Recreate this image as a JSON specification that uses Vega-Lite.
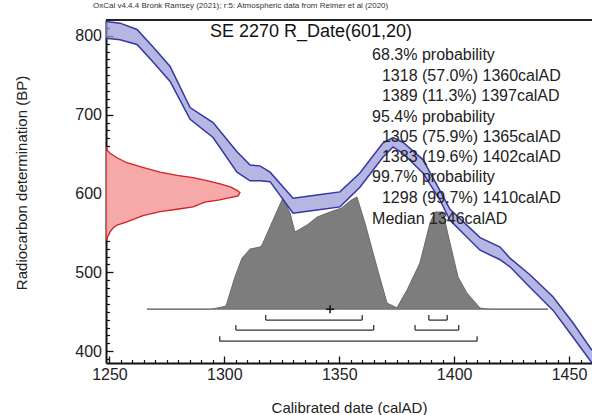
{
  "$schema": "https://vega.github.io/schema/vega-lite/v6.json",
  "width": 486,
  "height": 343,
  "autosize": {"type": "none"},
  "padding": {"left": 106, "top": 20, "right": 0, "bottom": 52},
  "background": "white",
  "config": {
    "view": {"stroke": null},
    "font": "Liberation Sans",
    "text": {"font": "Liberation Sans", "color": "#222"}
  },
  "title": {
    "text": "OxCal v4.4.4 Bronk Ramsey (2021); r:5: Atmospheric data from Reimer et al (2020)",
    "anchor": "start",
    "frame": "group",
    "dx": -13,
    "offset": 1,
    "fontSize": 8,
    "fontWeight": "normal",
    "color": "#333",
    "baseline": "bottom",
    "font": "Liberation Sans"
  },
  "resolve": {"axis": {"x": "independent", "y": "independent"}},
  "datasets": {
    "curve": [
      {"year": 1248.5, "hi": 818, "lo": 797},
      {"year": 1254.6, "hi": 816, "lo": 795},
      {"year": 1262.0, "hi": 808, "lo": 789},
      {"year": 1268.9, "hi": 786, "lo": 767},
      {"year": 1276.4, "hi": 761, "lo": 742},
      {"year": 1285.1, "hi": 709, "lo": 694},
      {"year": 1295.1, "hi": 690, "lo": 671},
      {"year": 1305.5, "hi": 653, "lo": 627},
      {"year": 1311.2, "hi": 636, "lo": 616},
      {"year": 1315.5, "hi": 635, "lo": 616},
      {"year": 1319.9, "hi": 627, "lo": 615},
      {"year": 1329.9, "hi": 594, "lo": 575},
      {"year": 1340.3, "hi": 598, "lo": 579},
      {"year": 1350.3, "hi": 602, "lo": 583},
      {"year": 1359.0, "hi": 626, "lo": 608},
      {"year": 1369.0, "hi": 664, "lo": 646},
      {"year": 1373.4, "hi": 671, "lo": 659},
      {"year": 1377.7, "hi": 665, "lo": 651},
      {"year": 1386.4, "hi": 643, "lo": 626},
      {"year": 1393.8, "hi": 604, "lo": 592},
      {"year": 1398.2, "hi": 580, "lo": 566},
      {"year": 1411.3, "hi": 544, "lo": 528},
      {"year": 1420.0, "hi": 532, "lo": 516},
      {"year": 1424.3, "hi": 518, "lo": 507},
      {"year": 1433.0, "hi": 497, "lo": 481},
      {"year": 1443.0, "hi": 469, "lo": 452},
      {"year": 1451.7, "hi": 436, "lo": 418},
      {"year": 1460.0, "hi": 401, "lo": 385}
    ],
    "grey": [
      {"year": 1266.3, "bp": 453.3},
      {"year": 1294.0, "bp": 453.3},
      {"year": 1296.8, "bp": 454.6},
      {"year": 1300.7, "bp": 457.1},
      {"year": 1304.6, "bp": 494.0},
      {"year": 1307.7, "bp": 518.1},
      {"year": 1311.2, "bp": 529.5},
      {"year": 1315.5, "bp": 532.1},
      {"year": 1316.4, "bp": 534.6},
      {"year": 1321.2, "bp": 566.3},
      {"year": 1325.5, "bp": 594.3},
      {"year": 1328.6, "bp": 575.2},
      {"year": 1330.7, "bp": 551.1},
      {"year": 1336.0, "bp": 560.0},
      {"year": 1340.3, "bp": 570.0},
      {"year": 1346.0, "bp": 576.5},
      {"year": 1351.0, "bp": 581.6},
      {"year": 1355.3, "bp": 591.7},
      {"year": 1357.7, "bp": 595.6},
      {"year": 1361.2, "bp": 562.5},
      {"year": 1366.4, "bp": 506.7},
      {"year": 1370.8, "bp": 461.0},
      {"year": 1375.1, "bp": 455.0},
      {"year": 1379.5, "bp": 477.5},
      {"year": 1385.1, "bp": 511.7},
      {"year": 1389.5, "bp": 562.5},
      {"year": 1391.7, "bp": 576.5},
      {"year": 1395.1, "bp": 576.5},
      {"year": 1398.2, "bp": 537.1},
      {"year": 1401.7, "bp": 494.0},
      {"year": 1405.6, "bp": 473.7},
      {"year": 1411.3, "bp": 454.6},
      {"year": 1415.6, "bp": 453.3},
      {"year": 1440.8, "bp": 453.3}
    ],
    "red": [
      {"bp": 659, "w": 1248.5},
      {"bp": 655, "w": 1249.0},
      {"bp": 651, "w": 1250.2},
      {"bp": 645, "w": 1253.5},
      {"bp": 639, "w": 1257.6},
      {"bp": 633, "w": 1264.5},
      {"bp": 627, "w": 1272.0},
      {"bp": 623, "w": 1279.4},
      {"bp": 620, "w": 1286.4},
      {"bp": 616, "w": 1292.9},
      {"bp": 612, "w": 1298.6},
      {"bp": 608, "w": 1302.9},
      {"bp": 604, "w": 1305.5},
      {"bp": 601, "w": 1306.8},
      {"bp": 597, "w": 1306.0},
      {"bp": 592, "w": 1298.0},
      {"bp": 589, "w": 1291.5},
      {"bp": 583, "w": 1286.4},
      {"bp": 580, "w": 1279.4},
      {"bp": 577, "w": 1272.0},
      {"bp": 572, "w": 1264.6},
      {"bp": 564, "w": 1257.6},
      {"bp": 560, "w": 1253.3},
      {"bp": 556, "w": 1251.5},
      {"bp": 551, "w": 1250.2},
      {"bp": 543, "w": 1248.9},
      {"bp": 541, "w": 1248.5}
    ],
    "ranges": [
      {"level": "68.3%", "from": 1318, "to": 1360, "bp": 439.4},
      {"level": "68.3%", "from": 1389, "to": 1397, "bp": 439.4},
      {"level": "95.4%", "from": 1305, "to": 1365, "bp": 426.7},
      {"level": "95.4%", "from": 1383, "to": 1402, "bp": 426.7},
      {"level": "99.7%", "from": 1298, "to": 1410, "bp": 412.7}
    ],
    "median": [{"year": 1346, "bp": 453.3}],
    "lines": [
      {"t": "68.3% probability", "bp": 775.9, "kind": "head"},
      {"t": "1318 (57.0%) 1360calAD", "bp": 749.2, "kind": "range"},
      {"t": "1389 (11.3%) 1397calAD", "bp": 723.8, "kind": "range"},
      {"t": "95.4% probability", "bp": 697.1, "kind": "head"},
      {"t": "1305 (75.9%) 1365calAD", "bp": 671.7, "kind": "range"},
      {"t": "1383 (19.6%) 1402calAD", "bp": 646.3, "kind": "range"},
      {"t": "99.7% probability", "bp": 621.0, "kind": "head"},
      {"t": "1298 (99.7%) 1410calAD", "bp": 594.3, "kind": "range"},
      {"t": "Median 1346calAD", "bp": 567.6, "kind": "head"}
    ],
    "heading": [{"t": "SE 2270 R_Date(601,20)", "year": 1337.7, "bp": 805}]
  },
  "layer": [
    {
      "data": {"name": "grey"},
      "mark": {"type": "area", "color": "#7d7d7d", "stroke": "#6a6a6a", "strokeWidth": 1, "clip": true},
      "encoding": {
        "x": {
          "field": "year", "type": "quantitative",
          "scale": {"domain": [1248.5, 1460], "nice": false, "zero": false},
          "axis": {
            "orient": "bottom",
            "values": [1250, 1300, 1350, 1400, 1450],
            "format": "d",
            "tickSize": -7,
            "tickColor": "#111", "tickWidth": 1.3,
            "domainColor": "#111", "domainWidth": 2,
            "labelFontSize": 16, "labelColor": "#222", "labelFont": "Liberation Sans",
            "labelPadding": 10, "labelOverlap": false, "labelFlush": false,
            "grid": false,
            "title": "Calibrated date (calAD)",
            "titleFontSize": 15, "titleFontWeight": "normal", "titleColor": "#222", "titleFont": "Liberation Sans",
            "titleY": 44, "titleBaseline": "middle"
          }
        },
        "y": {
          "field": "bp", "type": "quantitative",
          "scale": {"domain": [385, 820], "nice": false, "zero": false},
          "axis": {
            "orient": "left",
            "values": [400, 500, 600, 700, 800],
            "format": "d",
            "tickSize": -7,
            "tickColor": "#111", "tickWidth": 1.3,
            "domainColor": "#111", "domainWidth": 2,
            "labelFontSize": 16, "labelColor": "#222", "labelFont": "Liberation Sans",
            "labelPadding": 11.5, "labelOverlap": false, "labelFlush": false,
            "grid": false,
            "title": "Radiocarbon determination (BP)",
            "titleFontSize": 15, "titleFontWeight": "normal", "titleColor": "#222", "titleFont": "Liberation Sans",
            "titleX": -85, "titleY": 162.5, "titleAngle": -90, "titleBaseline": "middle", "titleAlign": "center"
          }
        },
        "y2": {"datum": 453.3}
      }
    },
    {
      "data": {"name": "red"},
      "mark": {"type": "area", "orient": "horizontal", "color": "#f5a9a9", "stroke": "#d81e1e", "strokeWidth": 1.3, "clip": true},
      "encoding": {
        "y": {
          "field": "bp", "type": "quantitative",
          "axis": {
            "orient": "left",
            "values": [390,410,420,430,440,450,460,470,480,490,510,520,530,540,550,560,570,580,590,610,620,630,640,650,660,670,680,690,710,720,730,740,750,760,770,780,790,810],
            "tickSize": -3.5, "tickColor": "#111", "tickWidth": 1.2,
            "labels": false, "domain": false, "grid": false, "title": null
          }
        },
        "x": {
          "field": "w", "type": "quantitative",
          "axis": {
            "orient": "bottom",
            "values": [1255,1260,1265,1270,1275,1280,1285,1290,1295,1305,1310,1315,1320,1325,1330,1335,1340,1345,1355,1360,1365,1370,1375,1380,1385,1390,1395,1405,1410,1415,1420,1425,1430,1435,1440,1445,1455],
            "tickSize": -3.5, "tickColor": "#111", "tickWidth": 1.2,
            "labels": false, "domain": false, "grid": false, "title": null
          }
        },
        "x2": {"datum": 1248.5}
      }
    },
    {
      "data": {"name": "curve"},
      "mark": {"type": "area", "color": "#9a9ad8", "opacity": 0.72, "clip": true},
      "encoding": {
        "x": {"field": "year", "type": "quantitative", "axis": null},
        "y": {"field": "hi", "type": "quantitative", "axis": null},
        "y2": {"field": "lo"}
      }
    },
    {
      "data": {"name": "curve"},
      "mark": {"type": "line", "color": "#3535a5", "strokeWidth": 1.5, "clip": true},
      "encoding": {
        "x": {"field": "year", "type": "quantitative", "axis": null},
        "y": {"field": "hi", "type": "quantitative", "axis": null}
      }
    },
    {
      "data": {"name": "curve"},
      "mark": {"type": "line", "color": "#3535a5", "strokeWidth": 1.5, "clip": true},
      "encoding": {
        "x": {"field": "year", "type": "quantitative", "axis": null},
        "y": {"field": "lo", "type": "quantitative", "axis": null}
      }
    },
    {
      "data": {"name": "ranges"},
      "mark": {"type": "rule", "color": "#333", "strokeWidth": 1.3},
      "encoding": {
        "x": {"field": "from", "type": "quantitative", "axis": null},
        "x2": {"field": "to"},
        "y": {"field": "bp", "type": "quantitative", "axis": null}
      }
    },
    {
      "data": {"name": "ranges"},
      "mark": {"type": "rule", "color": "#333", "strokeWidth": 1.3, "y2Offset": -5},
      "encoding": {
        "x": {"field": "from", "type": "quantitative", "axis": null},
        "y": {"field": "bp", "type": "quantitative", "axis": null},
        "y2": {"field": "bp"}
      }
    },
    {
      "data": {"name": "ranges"},
      "mark": {"type": "rule", "color": "#333", "strokeWidth": 1.3, "y2Offset": -5},
      "encoding": {
        "x": {"field": "to", "type": "quantitative", "axis": null},
        "y": {"field": "bp", "type": "quantitative", "axis": null},
        "y2": {"field": "bp"}
      }
    },
    {
      "data": {"name": "median"},
      "mark": {"type": "point", "shape": "M-1,0L1,0M0,-1L0,1", "size": 64, "filled": false, "stroke": "#111", "strokeWidth": 1.5, "opacity": 1},
      "encoding": {
        "x": {"field": "year", "type": "quantitative", "axis": null},
        "y": {"field": "bp", "type": "quantitative", "axis": null}
      }
    },
    {
      "data": {"values": [{"edge": 820}]},
      "mark": {"type": "rule", "color": "#222", "strokeWidth": 2},
      "encoding": {
        "y": {"field": "edge", "type": "quantitative", "axis": null}
      }
    },
    {
      "data": {"name": "heading"},
      "mark": {"type": "text", "fontSize": 18, "align": "center", "baseline": "middle", "color": "#111"},
      "encoding": {
        "x": {"field": "year", "type": "quantitative", "axis": null},
        "y": {"field": "bp", "type": "quantitative", "axis": null},
        "text": {"field": "t"}
      }
    },
    {
      "data": {"name": "lines"},
      "transform": [{"filter": "datum.kind === 'head'"}],
      "mark": {"type": "text", "fontSize": 16, "align": "left", "baseline": "middle", "color": "#222"},
      "encoding": {
        "x": {"datum": 1364.3, "type": "quantitative", "axis": null},
        "y": {"field": "bp", "type": "quantitative", "axis": null},
        "text": {"field": "t"}
      }
    },
    {
      "data": {"name": "lines"},
      "transform": [{"filter": "datum.kind === 'range'"}],
      "mark": {"type": "text", "fontSize": 16, "align": "left", "baseline": "middle", "color": "#222"},
      "encoding": {
        "x": {"datum": 1368.6, "type": "quantitative", "axis": null},
        "y": {"field": "bp", "type": "quantitative", "axis": null},
        "text": {"field": "t"}
      }
    }
  ]
}
